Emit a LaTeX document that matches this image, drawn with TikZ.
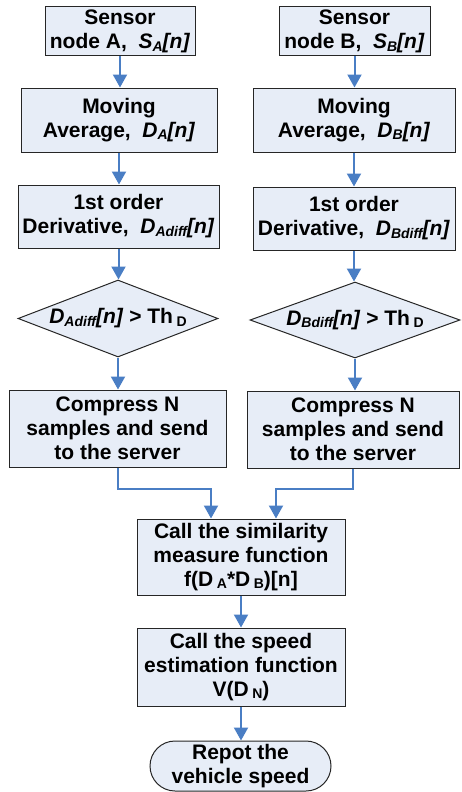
\documentclass[tikz,border=0pt]{standalone}
\usepackage{fontspec}
\setmainfont{Liberation Sans}
\usetikzlibrary{arrows.meta,shapes.geometric}
\definecolor{boxfill}{RGB}{231,237,247}
\definecolor{flowblue}{RGB}{74,126,196}
% lowered, smaller index text
\newcommand\dsub[1]{\raisebox{-2.5pt}{\fontsize{14}{14}\selectfont #1}}

\begin{document}
\begin{tikzpicture}[x=1pt,y=-1pt,
  boxtext/.style={font=\fontsize{21}{24}\selectfont\bfseries, align=center, inner sep=0pt},
  stepbox/.style={boxtext, draw=black!85, line width=1pt, fill=boxfill},
  decision/.style={diamond, draw=black!85, line width=1pt, fill=boxfill, inner sep=0pt},
  flow/.style={draw=flowblue, line width=2pt, -{Triangle[length=13pt,width=14pt]}},
  link/.style={draw=flowblue, line width=2pt}]
\useasboundingbox (0,0) rectangle (461,792);

% branch A
\node[stepbox, minimum width=150pt, minimum height=49pt] (sa) at (120,31.5)
  {Sensor\\node A,\ \ \textit{S\dsub{A}[n]}};
\node[stepbox, minimum width=196pt, minimum height=64pt] (ma) at (119,120)
  {Moving\\Average,\ \ \textit{D\dsub{A}[n]}};
\node[stepbox, minimum width=201pt, minimum height=63pt] (da) at (118.5,216.5)
  {1st order\\Derivative,\ \ \textit{D\dsub{Adiff}[n]}};
\node[decision, minimum width=200pt, minimum height=77pt] (ca) at (118,318.5) {};
\node[boxtext] (cat) at (ca) {\textit{D\dsub{Adiff}[n]} > Th\,\dsub{D}};
\node[stepbox, minimum width=217pt, minimum height=77pt] (ka) at (117.5,428.5)
  {Compress N\\samples and send\\to the server};

% branch B
\node[stepbox, minimum width=151pt, minimum height=49pt] (sb) at (354.5,31.5)
  {Sensor\\node B,\ \ \textit{S\dsub{B}[n]}};
\node[stepbox, minimum width=202pt, minimum height=64pt] (mb) at (354,120)
  {Moving\\Average,\ \ \textit{D\dsub{B}[n]}};
\node[stepbox, minimum width=202pt, minimum height=63pt] (db) at (354,218.5)
  {1st order\\Derivative,\ \ \textit{D\dsub{Bdiff}[n]}};
\node[decision, minimum width=210pt, minimum height=76pt] (cb) at (355,320) {};
\node[boxtext] (cbt) at (cb) {\textit{D\dsub{Bdiff}[n]} > Th\,\dsub{D}};
\node[stepbox, minimum width=212pt, minimum height=77pt] (kb) at (353,429.5)
  {Compress N\\samples and send\\to the server};

% common part
\node[stepbox, minimum width=208pt, minimum height=76pt] (sim) at (241,557)
  {Call the similarity\\measure function\\f(D\,\dsub{A}*D\,\dsub{B})[n]};
\node[stepbox, minimum width=208pt, minimum height=78pt] (spd) at (241,667)
  {Call the speed\\estimation function\\V(D\,\dsub{N})};
\node[stepbox, rounded corners=25pt, minimum width=181pt, minimum height=50pt] (rep) at (240.5,766)
  {Repot the\\vehicle speed};

\coordinate (inA) at ([xshift=-30pt]sim.north);
\coordinate (inB) at ([xshift=35pt]sim.north);

% connectors
\draw[flow] (sa.south) -- (sa.south |- ma.north);
\draw[flow] (ma.south) -- (ma.south |- da.north);
\draw[flow] (da.south) -- (da.south |- ca.north);
\draw[flow] (ca.south) -- (ca.south |- ka.north);
\draw[flow] (sb.south) -- (sb.south |- mb.north);
\draw[flow] (mb.south) -- (mb.south |- db.north);
\draw[flow] (db.south) -- (db.south |- cb.north);
\draw[flow] (cb.south) -- (cb.south |- kb.north);
\draw[flow] (ka.south) -- ++(0,21) -| (inA);
\draw[flow] (kb.south) -- ++(0,20) -| (inB);
\draw[flow] (sim.south) -- (sim.south |- spd.north);
\draw[flow] (spd.south) -- (spd.south |- rep.north);
\end{tikzpicture}
\end{document}
